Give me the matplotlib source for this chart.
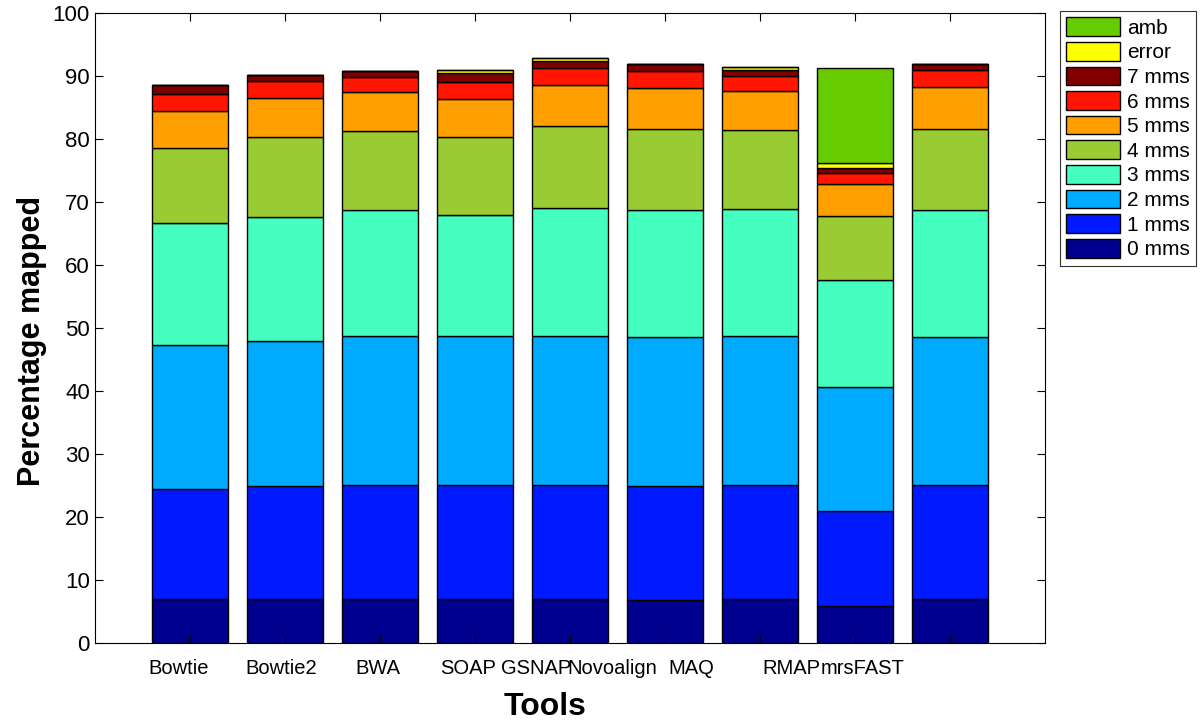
import numpy as np
import matplotlib
matplotlib.use("Agg")
import matplotlib.pyplot as plt

tools = ["Bowtie", "Bowtie2", "BWA", "SOAP", "GSNAP", "Novoalign", "MAQ", "RMAP", "mrsFAST"]
levels = ["0 mms", "1 mms", "2 mms", "3 mms", "4 mms", "5 mms", "6 mms", "7 mms", "error", "amb"]

# segment heights (percent) for each tool
mms0 = [7.0, 7.0, 7.0, 7.0, 7.0, 6.9, 7.0, 5.9, 7.0]
mms1 = [17.5, 17.9, 18.0, 18.0, 18.0, 18.0, 18.0, 15.0, 18.0]
mms2 = [22.8, 23.1, 23.7, 23.7, 23.7, 23.6, 23.7, 19.7, 23.5]
mms3 = [19.3, 19.6, 20.0, 19.3, 20.3, 20.2, 20.1, 17.0, 20.2]
mms4 = [12.0, 12.7, 12.6, 12.3, 13.0, 12.9, 12.6, 10.2, 12.9]
mms5 = [5.9, 6.2, 6.1, 6.1, 6.6, 6.5, 6.2, 5.0, 6.6]
mms6 = [2.6, 2.7, 2.4, 2.6, 2.6, 2.7, 2.3, 1.8, 2.7]
mms7 = [1.4, 0.9, 0.9, 1.4, 1.1, 1.1, 1.0, 0.8, 1.0]
error = [0.0, 0.0, 0.1, 0.5, 0.5, 0.0, 0.5, 0.8, 0.0]
amb = [0.0, 0.0, 0.0, 0.0, 0.0, 0.0, 0.0, 15.0, 0.0]

colors = ["#00008F", "#0019FF", "#00AAFF", "#44FFBF", "#99CC33",
          "#FF9F00", "#FF1500", "#800000", "#FFFF00", "#66CC00"]

# left edges of the tool names under the axis (x in data units)
label_x = [0.56, 1.58, 2.74, 3.63, 4.27, 4.97, 6.03, 7.02, 7.64]

plt.rcParams['font.family'] = ['Liberation Sans', 'DejaVu Sans']

fig = plt.figure(figsize=(12, 7.26), dpi=100)
ax = fig.add_axes([0.079, 0.1143, 0.792, 0.868])

x = np.arange(1, len(tools) + 1)
series = [mms0, mms1, mms2, mms3, mms4, mms5, mms6, mms7, error, amb]
bottom = np.zeros(len(tools))
handles = []
for vals, lab, col in zip(series, levels, colors):
    vals = np.array(vals)
    h = ax.bar(x, vals, width=0.8, bottom=bottom, color=col,
               edgecolor="black", linewidth=1, label=lab)
    handles.append(h)
    bottom = bottom + vals

ax.set_xlim(0, 10)
ax.set_ylim(0, 100)
ax.set_yticks(np.arange(0, 101, 10))
ax.set_xticks(x)
ax.set_xticklabels([])
ax.tick_params(axis="both", direction="in", length=6, top=True, right=True,
               labelsize=16, width=0.8)

for lx, name in zip(label_x, tools):
    ax.text(lx, -2.5, name, ha="left", va="top", fontsize=14.5)

ax.set_ylabel("Percentage mapped", fontsize=22, fontweight="bold")
ax.yaxis.set_label_coords(-0.05, 0.48)
fig.text(545 / 1200, 0.005, "Tools", ha="center", va="bottom",
         fontsize=23, fontweight="bold")

leg = fig.legend(handles[::-1], levels[::-1], loc="upper left",
                 bbox_to_anchor=(1060 / 1200, 1 - 11 / 726), fontsize=15,
                 frameon=True, fancybox=False, edgecolor="black",
                 handlelength=2.6, handleheight=1.0, handletextpad=0.3,
                 labelspacing=0.2, borderpad=0.3, borderaxespad=0)
leg.get_frame().set_linewidth(0.8)

fig.savefig("out.png", dpi=100)
